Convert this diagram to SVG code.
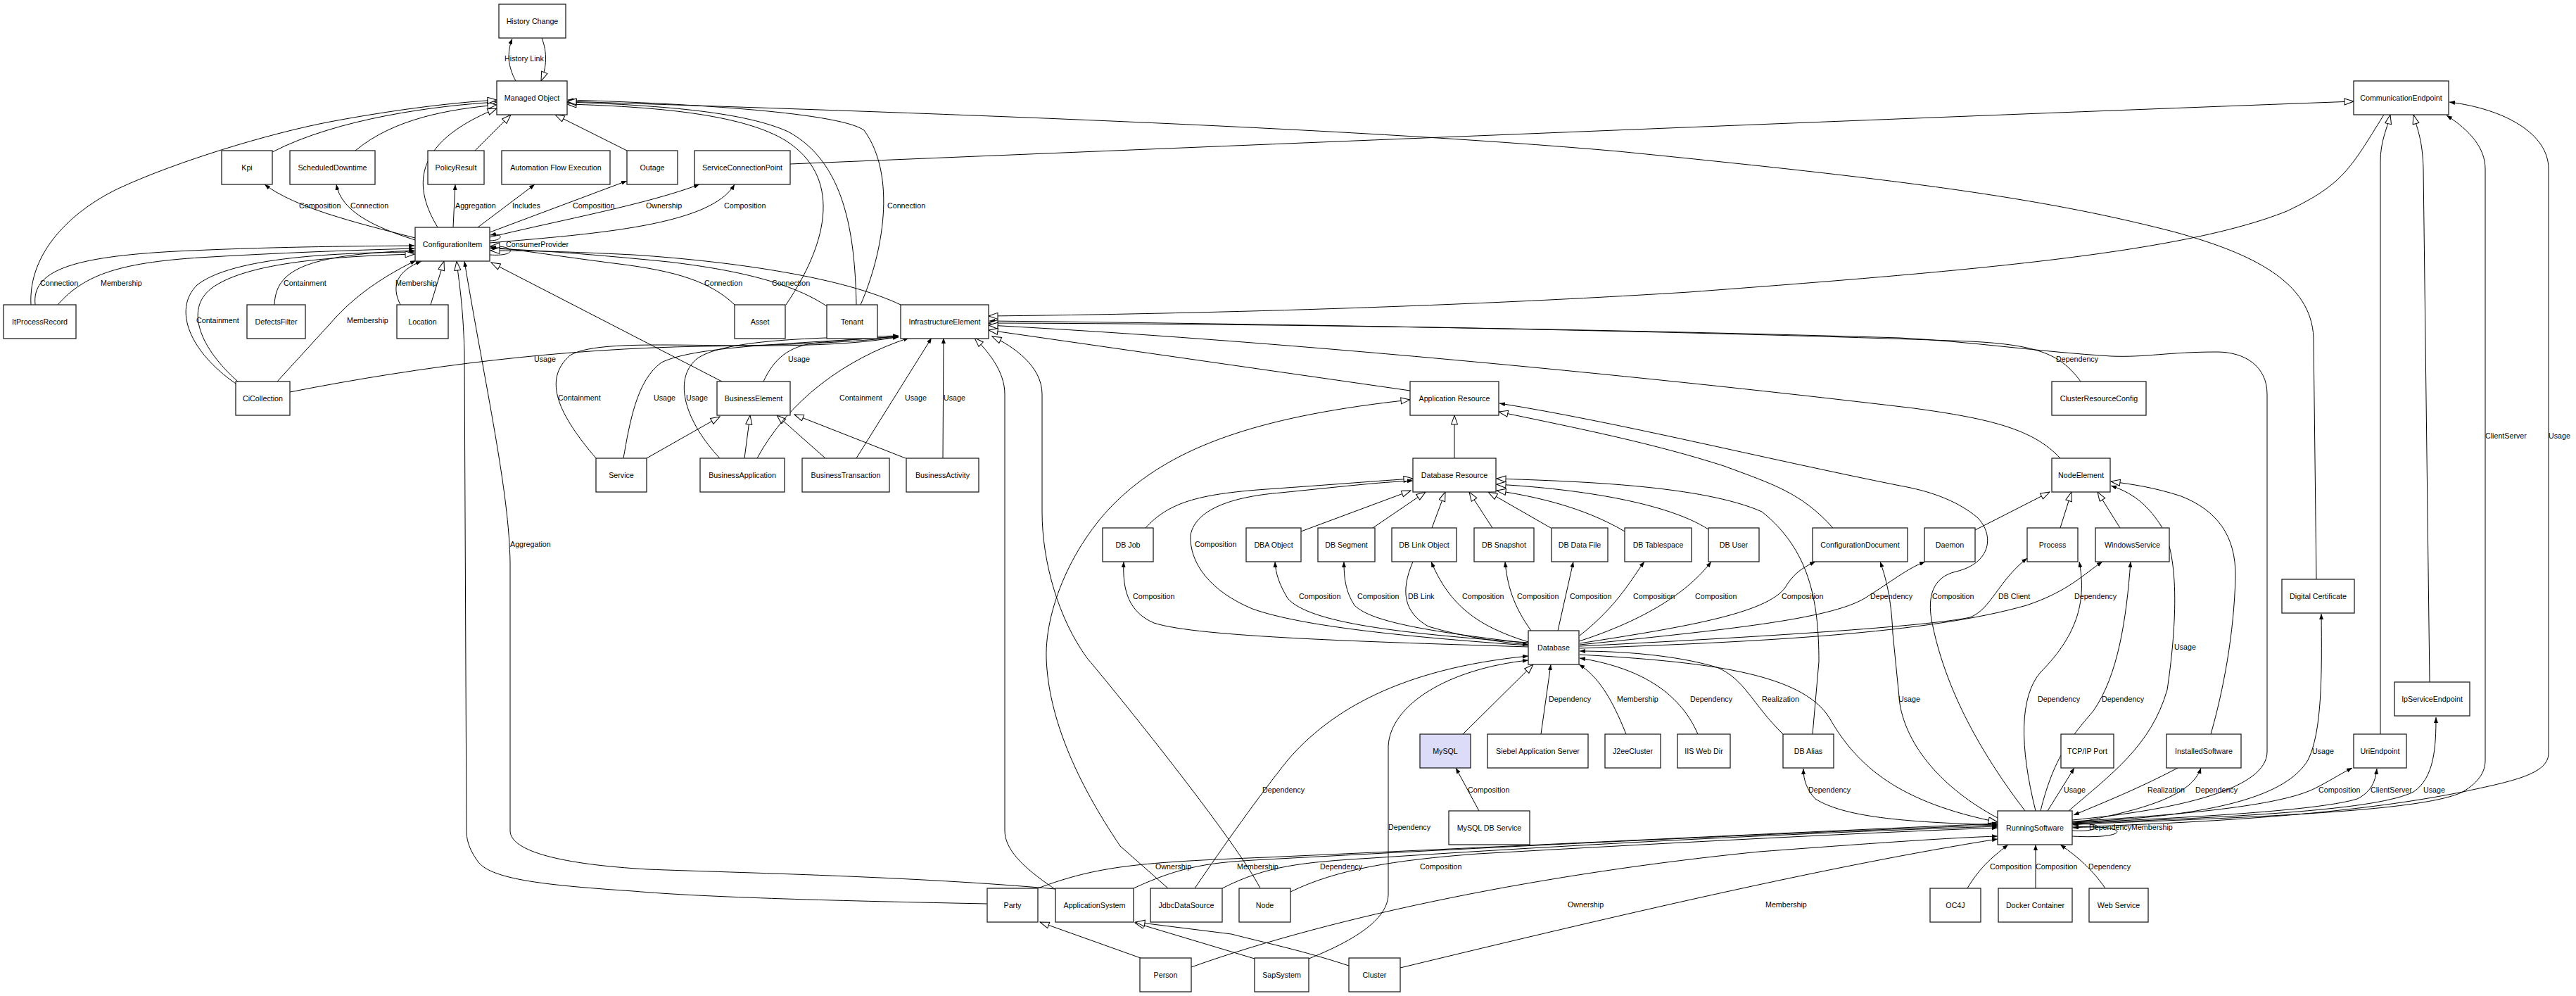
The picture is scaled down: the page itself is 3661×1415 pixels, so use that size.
<svg xmlns="http://www.w3.org/2000/svg" width="3661" height="1415" viewBox="0 0 3661 1415">
<style>
.e{fill:none;stroke:#000;stroke-width:1}
.f{marker-end:url(#af)}
.h{marker-end:url(#ah)}
.n rect{fill:#fff;stroke:#222;stroke-width:1.3}
.n text{font-family:"Liberation Sans",Arial,sans-serif;font-size:10.7px;text-anchor:middle;fill:#000}
.l text{font-family:"Liberation Sans",Arial,sans-serif;font-size:10.7px;fill:#000}
</style>
<defs>
<marker id="af" markerUnits="userSpaceOnUse" markerWidth="9" markerHeight="7" refX="8" refY="3" orient="auto" viewBox="0 0 9 7"><path d="M0,0 L8,3 L0,6 z" fill="#000"/></marker>
<marker id="ah" markerUnits="userSpaceOnUse" markerWidth="15" markerHeight="11" refX="14" refY="5" orient="auto" viewBox="0 0 15 11"><path d="M1,0.5 L14,5 L1,9.5 z" fill="#fff" stroke="#000" stroke-width="1"/></marker>
</defs>
<rect width="3661" height="1415" fill="#fff"/>
<g id="connectors">
<path class="e f" d="M733,115 C722,95 720,75 728,55"/>
<path class="e h" d="M770,54 C778,75 777,95 769,115"/>
<path class="e h" d="M387,216 C480,168 620,150 706,145"/>
<path class="e h" d="M505,214 C560,168 640,155 706,149"/>
<path class="e h" d="M44,433 C40,360 100,300 170,267 C250,230 380,190 469,173 C560,156 640,146 706,142"/>
<path class="e h" d="M622,323 C590,270 580,205 706,154"/>
<path class="e h" d="M675,214 L726,163"/>
<path class="e h" d="M891,214 L789,163"/>
<path class="e h" d="M1117,433 C1180,340 1195,250 1117,200 C1060,165 950,152 806,148"/>
<path class="e h" d="M1217,433 C1215,330 1200,230 1120,187 C1060,160 950,150 806,145"/>
<path class="e f" d="M1223,433 C1255,360 1275,250 1228,185 C1190,158 950,146 807,142"/>
<path class="e h" d="M3292,823 L3288,480 C3285,400 3200,360 3092,330 C2900,280 2700,255 2300,215 C1900,180 1300,160 806,144"/>
<path class="e h" d="M1123,233 C1800,205 2700,168 3345,144"/>
<path class="e h" d="M3388,163 C3340,240 3330,262 3250,300 C3100,360 2800,385 2400,415 C2000,440 1600,447 1405,449"/>
<path class="e h" d="M3383,1043 L3383,230 C3383,200 3392,185 3397,163"/>
<path class="e h" d="M3453,969 L3444,240 C3443,200 3436,185 3430,163"/>
<path class="e f" d="M590,338 C500,315 420,295 376,262"/>
<path class="e f" d="M590,341 C530,322 485,300 478,262"/>
<path class="e f" d="M644,323 L647,262"/>
<path class="e f" d="M679,323 L760,262"/>
<path class="e f" d="M696,330 L891,257"/>
<path class="e f" d="M696,337 C800,312 920,290 994,262"/>
<path class="e f" d="M696,345 C850,332 1010,320 1044,262"/>
<path class="e f" d="M696,342 C716,342 716,330 697,334"/>
<path class="e h" d="M696,362 C735,365 735,348 697,350"/>
<path class="e f" d="M50,433 C45,385 100,365 250,357 C400,350 500,350 589,349"/>
<path class="e f" d="M82,433 C120,390 170,372 300,365 C420,358 520,355 589,353"/>
<path class="e f" d="M390,433 C392,385 430,362 589,356"/>
<path class="e f" d="M335,545 C270,500 245,440 280,405 C330,365 480,359 589,358"/>
<path class="e h" d="M338,542 C285,495 262,440 300,410 C350,372 480,364 589,361"/>
<path class="e f" d="M394,542 L469,460 C495,430 530,400 591,370"/>
<path class="e f" d="M569,433 C555,405 565,385 599,371"/>
<path class="e h" d="M612,433 L631,371"/>
<path class="e h" d="M1403,1284 C1200,1280 1000,1275 900,1266 C780,1258 700,1250 680,1225 C665,1205 663,1190 663,1180 L660,500 C658,430 652,400 649,371"/>
<path class="e f" d="M1500,1263 C1300,1245 1050,1240 920,1235 C800,1228 725,1210 725,1180 L725,800 C724,700 690,550 660,371"/>
<path class="e h" d="M1026,542 L698,373"/>
<path class="e f" d="M1044,433 C1010,400 960,385 880,375 C800,365 740,355 697,351"/>
<path class="e f" d="M1175,435 C1130,405 1060,385 950,372 C850,362 760,355 697,353"/>
<path class="e h" d="M1280,433 C1200,395 1050,372 900,362 C800,357 740,356 697,356"/>
<path class="e h" d="M919,651 L1023,592"/>
<path class="e h" d="M1058,651 L1066,590"/>
<path class="e h" d="M1173,651 L1104,590"/>
<path class="e h" d="M1287,651 L1129,589"/>
<path class="e f" d="M847,651 C795,590 770,540 810,505 C850,480 1000,495 1150,490 C1220,488 1260,482 1277,478"/>
<path class="e f" d="M886,651 C895,600 905,540 940,515 C990,490 1150,488 1277,478"/>
<path class="e f" d="M1023,651 C975,600 955,540 990,510 C1030,480 1180,480 1277,477"/>
<path class="e f" d="M1085,542 C1100,510 1120,492 1160,487 C1210,482 1250,480 1277,478"/>
<path class="e f" d="M1076,651 C1120,570 1200,510 1292,480"/>
<path class="e f" d="M1217,651 L1324,480"/>
<path class="e f" d="M1340,651 L1341,480"/>
<path class="e f" d="M412,557 C600,520 800,495 1000,492 C1150,490 1230,484 1277,479"/>
<path class="e h" d="M1499,1263 C1450,1230 1428,1205 1428,1180 L1428,560 C1428,528 1405,500 1385,480"/>
<path class="e h" d="M1791,1262 C1760,1200 1600,1000 1545,935 C1505,880 1481,800 1481,727 L1481,560 C1481,520 1440,492 1410,478"/>
<path class="e h" d="M1660,1262 L1592,1202 C1530,1110 1490,1020 1487,935 C1485,860 1530,760 1600,700 C1680,630 1800,590 2004,568"/>
<path class="e f" d="M2957,542 C2930,505 2900,490 2800,485 C2400,470 1800,460 1406,456"/>
<path class="e h" d="M2945,1165 C3100,1150 3222,1120 3222,1068 L3222,560 C3222,520 3190,500 3151,500 C3080,500 3050,508 3000,506 C2900,500 2800,485 2700,480 C2300,468 1800,460 1405,459"/>
<path class="e h" d="M2928,651 C2890,610 2830,595 2720,580 C2300,530 1800,483 1405,462"/>
<path class="e h" d="M2004,555 L1405,469"/>
<path class="e h" d="M2067,651 L2067,590"/>
<path class="e h" d="M2605,750 C2560,700 2520,688 2450,662 C2350,630 2250,610 2130,585"/>
<path class="e f" d="M2878,1152 C2800,1050 2760,960 2745,880 C2740,850 2745,820 2780,812 C2830,800 2835,760 2810,735 C2780,710 2740,697 2700,690 C2500,650 2300,600 2131,573"/>
<path class="e h" d="M1628,750 C1660,715 1700,702 1800,695 C1900,688 1960,683 2008,680"/>
<path class="e f" d="M2172,917 C2000,905 1850,890 1780,865 C1720,840 1690,800 1692,760 C1700,720 1760,705 1820,700 C1900,692 1960,685 2008,683"/>
<path class="e f" d="M2172,919 C1950,912 1700,905 1640,885 C1605,870 1595,840 1597,798"/>
<path class="e f" d="M2172,913 C1990,900 1860,885 1830,850 C1818,830 1813,815 1812,798"/>
<path class="e h" d="M1849,755 L2005,697"/>
<path class="e f" d="M2172,914 C2040,898 1950,885 1925,860 C1912,840 1910,820 1910,798"/>
<path class="e h" d="M1951,750 L2026,699"/>
<path class="e f" d="M2008,798 C1990,840 1995,870 2030,890 C2080,905 2130,912 2172,916"/>
<path class="e f" d="M2172,912 C2100,890 2060,860 2034,798"/>
<path class="e h" d="M2035,750 L2054,699"/>
<path class="e f" d="M2176,896 C2150,860 2142,830 2139,798"/>
<path class="e h" d="M2121,750 L2088,699"/>
<path class="e f" d="M2214,896 L2236,798"/>
<path class="e h" d="M2204,750 L2115,699"/>
<path class="e f" d="M2245,903 C2300,860 2320,820 2337,798"/>
<path class="e h" d="M2309,755 C2250,720 2180,705 2127,697"/>
<path class="e f" d="M2244,911 C2340,880 2400,840 2432,798"/>
<path class="e h" d="M2428,752 C2370,715 2250,695 2127,688"/>
<path class="e h" d="M2576,1043 L2585,940 C2585,850 2570,780 2504,727 C2420,690 2250,684 2127,680"/>
<path class="e f" d="M2534,1043 C2490,1000 2480,965 2440,948 C2380,930 2300,925 2245,925"/>
<path class="e f" d="M2245,914 C2400,890 2520,870 2540,830 C2552,812 2565,805 2580,798"/>
<path class="e f" d="M2245,916 C2450,895 2600,880 2650,850 C2690,825 2710,808 2736,798"/>
<path class="e f" d="M2245,918 C2500,905 2740,890 2800,877 C2830,865 2840,825 2881,793"/>
<path class="e f" d="M2245,921 C2500,912 2740,900 2880,860 C2940,840 2962,815 2988,798"/>
<path class="e h" d="M2079,1043 L2179,944"/>
<path class="e f" d="M2190,1043 L2204,944"/>
<path class="e f" d="M2311,1043 C2290,990 2270,960 2244,944"/>
<path class="e f" d="M2413,1043 C2390,990 2340,950 2245,935"/>
<path class="e f" d="M2102,1152 L2069,1091"/>
<path class="e h" d="M2245,930 C2420,940 2560,955 2600,1020 C2640,1090 2700,1140 2839,1168"/>
<path class="e f" d="M1860,1362 C1940,1330 1973,1300 1973,1270 L1973,1060 C1976,1000 2060,950 2172,938"/>
<path class="e f" d="M1698,1262 C1740,1200 1790,1130 1830,1080 C1890,1010 1990,950 2172,932"/>
<path class="e f" d="M1475,1262 C1560,1230 1620,1225 1800,1218 C2200,1200 2600,1180 2839,1170"/>
<path class="e f" d="M1611,1262 C1680,1230 1720,1225 1800,1221 C2200,1199 2600,1181 2839,1172"/>
<path class="e f" d="M1737,1262 C1800,1230 1850,1225 1950,1219 C2300,1196 2600,1182 2839,1174"/>
<path class="e f" d="M1834,1267 C1900,1235 1980,1222 2100,1213 C2400,1196 2650,1183 2839,1176"/>
<path class="e f" d="M1693,1374 C1900,1300 2200,1240 2500,1210 C2700,1195 2780,1190 2839,1188"/>
<path class="e f" d="M1990,1375 C2300,1300 2600,1230 2839,1192"/>
<path class="e h" d="M1783,1362 L1613,1311"/>
<path class="e h" d="M1917,1372 C1850,1350 1800,1340 1750,1327 L1614,1310"/>
<path class="e h" d="M1621,1361 L1478,1310"/>
<path class="e f" d="M2910,1152 L2948,1091"/>
<path class="e f" d="M3095,1091 C3040,1120 2990,1140 2947,1158"/>
<path class="e f" d="M2945,1170 C3050,1150 3115,1130 3128,1091"/>
<path class="e h" d="M3142,1043 C3160,980 3175,900 3177,820 C3178,760 3150,725 3100,705 C3060,692 3030,688 3000,684"/>
<path class="e f" d="M2940,1152 C3000,1100 3057,1060 3080,980 C3092,900 3100,790 3070,745 C3050,715 3030,700 3000,690"/>
<path class="e f" d="M2945,1168 C3150,1160 3250,1130 3280,1080 C3300,1040 3300,960 3299,872"/>
<path class="e f" d="M2945,1167 C3150,1155 3250,1140 3290,1120 C3310,1110 3325,1100 3343,1091"/>
<path class="e f" d="M2945,1169 C3150,1160 3300,1150 3350,1135 C3370,1125 3376,1110 3378,1092"/>
<path class="e f" d="M2945,1170 C3200,1160 3380,1150 3430,1125 C3460,1105 3462,1060 3462,1019"/>
<path class="e f" d="M2945,1171 C3250,1160 3450,1150 3500,1125 C3525,1110 3532,1095 3532,1080 L3532,240 C3532,210 3510,185 3477,164"/>
<path class="e f" d="M2945,1175 C3250,1165 3400,1145 3500,1125 C3570,1110 3622,1100 3622,1070 L3622,240 C3622,190 3560,155 3481,145"/>
<path class="e f" d="M2945,1180 C2990,1183 2995,1166 2946,1172"/>
<path class="e f" d="M2945,1188 C3030,1193 3030,1170 2946,1176"/>
<path class="e f" d="M2796,1262 C2815,1230 2835,1215 2854,1200"/>
<path class="e f" d="M2893,1262 L2893,1200"/>
<path class="e f" d="M2992,1262 C2970,1230 2945,1212 2928,1200"/>
<path class="e f" d="M2893,1152 C2870,1060 2870,990 2900,955 C2955,900 2965,850 2955,798"/>
<path class="e f" d="M2900,1152 C2920,1070 2950,1040 2975,1010 C3010,960 3022,880 3028,798"/>
<path class="e f" d="M2839,1162 C2760,1120 2710,1060 2700,1000 L2690,900 C2688,850 2680,820 2672,798"/>
<path class="e f" d="M2839,1172 C2700,1168 2620,1160 2580,1135 C2566,1120 2563,1105 2563,1092"/>
<path class="e h" d="M2807,753 L2913,699"/>
<path class="e h" d="M2928,750 L2944,699"/>
<path class="e h" d="M3013,750 L2981,699"/>
<g class="l">
<text x="745" y="87" text-anchor="middle">History Link</text>
<text x="425" y="296">Composition</text>
<text x="498" y="296">Connection</text>
<text x="647" y="296">Aggregation</text>
<text x="728" y="296">Includes</text>
<text x="814" y="296">Composition</text>
<text x="918" y="296">Ownership</text>
<text x="1029" y="296">Composition</text>
<text x="1261" y="296">Connection</text>
<text x="719" y="351">ConsumerProvider</text>
<text x="57" y="406">Connection</text>
<text x="143" y="406">Membership</text>
<text x="403" y="406">Containment</text>
<text x="562" y="406">Membership</text>
<text x="1001" y="406">Connection</text>
<text x="1097" y="406">Connection</text>
<text x="279" y="459">Containment</text>
<text x="493" y="459">Membership</text>
<text x="759" y="514">Usage</text>
<text x="1120" y="514">Usage</text>
<text x="2922" y="514">Dependency</text>
<text x="793" y="569">Containment</text>
<text x="929" y="569">Usage</text>
<text x="975" y="569">Usage</text>
<text x="1193" y="569">Containment</text>
<text x="1286" y="569">Usage</text>
<text x="1341" y="569">Usage</text>
<text x="3532" y="623">ClientServer</text>
<text x="3622" y="623">Usage</text>
<text x="725" y="777">Aggregation</text>
<text x="1698" y="777">Composition</text>
<text x="1610" y="851">Composition</text>
<text x="1846" y="851">Composition</text>
<text x="1929" y="851">Composition</text>
<text x="2001" y="851">DB Link</text>
<text x="2078" y="851">Composition</text>
<text x="2156" y="851">Composition</text>
<text x="2231" y="851">Composition</text>
<text x="2321" y="851">Composition</text>
<text x="2409" y="851">Composition</text>
<text x="2532" y="851">Composition</text>
<text x="2658" y="851">Dependency</text>
<text x="2746" y="851">Composition</text>
<text x="2840" y="851">DB Client</text>
<text x="2948" y="851">Dependency</text>
<text x="3090" y="923">Usage</text>
<text x="2201" y="997">Dependency</text>
<text x="2298" y="997">Membership</text>
<text x="2402" y="997">Dependency</text>
<text x="2504" y="997">Realization</text>
<text x="2698" y="997">Usage</text>
<text x="2896" y="997">Dependency</text>
<text x="2987" y="997">Dependency</text>
<text x="3286" y="1071">Usage</text>
<text x="1794" y="1126">Dependency</text>
<text x="2086" y="1126">Composition</text>
<text x="2570" y="1126">Dependency</text>
<text x="2933" y="1126">Usage</text>
<text x="3052" y="1126">Realization</text>
<text x="3120" y="1126">Dependency</text>
<text x="3295" y="1126">Composition</text>
<text x="3369" y="1126">ClientServer</text>
<text x="3444" y="1126">Usage</text>
<text x="1973" y="1179">Dependency</text>
<text x="2969" y="1179">Dependency</text>
<text x="3029" y="1179">Membership</text>
<text x="1642" y="1235">Ownership</text>
<text x="1758" y="1235">Membership</text>
<text x="1876" y="1235">Dependency</text>
<text x="2018" y="1235">Composition</text>
<text x="2828" y="1235">Composition</text>
<text x="2893" y="1235">Composition</text>
<text x="2968" y="1235">Dependency</text>
<text x="2228" y="1289">Ownership</text>
<text x="2509" y="1289">Membership</text>
</g>
</g>
<g id="nodes">
<g id="n-HistoryChange" class="n"><rect x="709" y="6" width="95" height="48"/><text x="756.5" y="34">History Change</text></g>
<g id="n-ManagedObject" class="n"><rect x="706" y="115" width="100" height="48"/><text x="756" y="143">Managed Object</text></g>
<g id="n-Kpi" class="n"><rect x="315" y="214" width="72" height="48"/><text x="351" y="242">Kpi</text></g>
<g id="n-ScheduledDowntime" class="n"><rect x="412" y="214" width="121" height="48"/><text x="472.5" y="242">ScheduledDowntime</text></g>
<g id="n-PolicyResult" class="n"><rect x="608" y="214" width="80" height="48"/><text x="648" y="242">PolicyResult</text></g>
<g id="n-AutomationFlowExecution" class="n"><rect x="713" y="214" width="154" height="48"/><text x="790" y="242">Automation Flow Execution</text></g>
<g id="n-Outage" class="n"><rect x="891" y="214" width="72" height="48"/><text x="927" y="242">Outage</text></g>
<g id="n-ServiceConnectionPoint" class="n"><rect x="987" y="214" width="136" height="48"/><text x="1055" y="242">ServiceConnectionPoint</text></g>
<g id="n-CommunicationEndpoint" class="n"><rect x="3345" y="115" width="135" height="48"/><text x="3412.5" y="143">CommunicationEndpoint</text></g>
<g id="n-ConfigurationItem" class="n"><rect x="590" y="323" width="106" height="48"/><text x="643" y="351">ConfigurationItem</text></g>
<g id="n-ItProcessRecord" class="n"><rect x="5" y="433" width="103" height="48"/><text x="56.5" y="461">ItProcessRecord</text></g>
<g id="n-DefectsFilter" class="n"><rect x="351" y="433" width="83" height="48"/><text x="392.5" y="461">DefectsFilter</text></g>
<g id="n-Location" class="n"><rect x="564" y="433" width="73" height="48"/><text x="600.5" y="461">Location</text></g>
<g id="n-Asset" class="n"><rect x="1044" y="433" width="72" height="48"/><text x="1080" y="461">Asset</text></g>
<g id="n-Tenant" class="n"><rect x="1175" y="433" width="72" height="48"/><text x="1211" y="461">Tenant</text></g>
<g id="n-InfrastructureElement" class="n"><rect x="1280" y="433" width="125" height="48"/><text x="1342.5" y="461">InfrastructureElement</text></g>
<g id="n-CiCollection" class="n"><rect x="335" y="542" width="77" height="48"/><text x="373.5" y="570">CiCollection</text></g>
<g id="n-BusinessElement" class="n"><rect x="1019" y="542" width="104" height="48"/><text x="1071" y="570">BusinessElement</text></g>
<g id="n-ApplicationResource" class="n"><rect x="2004" y="542" width="126" height="48"/><text x="2067" y="570">Application Resource</text></g>
<g id="n-ClusterResourceConfig" class="n"><rect x="2916" y="542" width="134" height="48"/><text x="2983" y="570">ClusterResourceConfig</text></g>
<g id="n-Service" class="n"><rect x="847" y="651" width="72" height="48"/><text x="883" y="679">Service</text></g>
<g id="n-BusinessApplication" class="n"><rect x="995" y="651" width="120" height="48"/><text x="1055" y="679">BusinessApplication</text></g>
<g id="n-BusinessTransaction" class="n"><rect x="1140" y="651" width="124" height="48"/><text x="1202" y="679">BusinessTransaction</text></g>
<g id="n-BusinessActivity" class="n"><rect x="1288" y="651" width="103" height="48"/><text x="1339.5" y="679">BusinessActivity</text></g>
<g id="n-DatabaseResource" class="n"><rect x="2008" y="651" width="118" height="48"/><text x="2067" y="679">Database Resource</text></g>
<g id="n-NodeElement" class="n"><rect x="2916" y="651" width="83" height="48"/><text x="2957.5" y="679">NodeElement</text></g>
<g id="n-DBJob" class="n"><rect x="1567" y="750" width="72" height="48"/><text x="1603" y="778">DB Job</text></g>
<g id="n-DBAObject" class="n"><rect x="1771" y="750" width="78" height="48"/><text x="1810" y="778">DBA Object</text></g>
<g id="n-DBSegment" class="n"><rect x="1873" y="750" width="81" height="48"/><text x="1913.5" y="778">DB Segment</text></g>
<g id="n-DBLinkObject" class="n"><rect x="1978" y="750" width="92" height="48"/><text x="2024" y="778">DB Link Object</text></g>
<g id="n-DBSnapshot" class="n"><rect x="2095" y="750" width="85" height="48"/><text x="2137.5" y="778">DB Snapshot</text></g>
<g id="n-DBDataFile" class="n"><rect x="2205" y="750" width="80" height="48"/><text x="2245" y="778">DB Data File</text></g>
<g id="n-DBTablespace" class="n"><rect x="2309" y="750" width="95" height="48"/><text x="2356.5" y="778">DB Tablespace</text></g>
<g id="n-DBUser" class="n"><rect x="2428" y="750" width="72" height="48"/><text x="2464" y="778">DB User</text></g>
<g id="n-ConfigurationDocument" class="n"><rect x="2576" y="750" width="135" height="48"/><text x="2643.5" y="778">ConfigurationDocument</text></g>
<g id="n-Daemon" class="n"><rect x="2735" y="750" width="72" height="48"/><text x="2771" y="778">Daemon</text></g>
<g id="n-Process" class="n"><rect x="2881" y="750" width="72" height="48"/><text x="2917" y="778">Process</text></g>
<g id="n-WindowsService" class="n"><rect x="2978" y="750" width="105" height="48"/><text x="3030.5" y="778">WindowsService</text></g>
<g id="n-DigitalCertificate" class="n"><rect x="3243" y="823" width="103" height="48"/><text x="3294.5" y="851">Digital Certificate</text></g>
<g id="n-Database" class="n"><rect x="2172" y="896" width="72" height="48"/><text x="2208" y="924">Database</text></g>
<g id="n-IpServiceEndpoint" class="n"><rect x="3403" y="969" width="107" height="48"/><text x="3456.5" y="997">IpServiceEndpoint</text></g>
<g id="n-MySQL" class="n"><rect x="2018" y="1043" width="72" height="48" style="fill:#dcdcf8"/><text x="2054" y="1071">MySQL</text></g>
<g id="n-SiebelApplicationServer" class="n"><rect x="2114" y="1043" width="143" height="48"/><text x="2185.5" y="1071">Siebel Application Server</text></g>
<g id="n-J2eeCluster" class="n"><rect x="2281" y="1043" width="79" height="48"/><text x="2320.5" y="1071">J2eeCluster</text></g>
<g id="n-IISWebDir" class="n"><rect x="2384" y="1043" width="75" height="48"/><text x="2421.5" y="1071">IIS Web Dir</text></g>
<g id="n-DBAlias" class="n"><rect x="2534" y="1043" width="72" height="48"/><text x="2570" y="1071">DB Alias</text></g>
<g id="n-TCPIPPort" class="n"><rect x="2929" y="1043" width="75" height="48"/><text x="2966.5" y="1071">TCP/IP Port</text></g>
<g id="n-InstalledSoftware" class="n"><rect x="3079" y="1043" width="106" height="48"/><text x="3132" y="1071">InstalledSoftware</text></g>
<g id="n-UriEndpoint" class="n"><rect x="3345" y="1043" width="75" height="48"/><text x="3382.5" y="1071">UriEndpoint</text></g>
<g id="n-MySQLDBService" class="n"><rect x="2059" y="1152" width="115" height="48"/><text x="2116.5" y="1180">MySQL DB Service</text></g>
<g id="n-RunningSoftware" class="n"><rect x="2839" y="1152" width="106" height="48"/><text x="2892" y="1180">RunningSoftware</text></g>
<g id="n-Party" class="n"><rect x="1403" y="1262" width="72" height="48"/><text x="1439" y="1290">Party</text></g>
<g id="n-ApplicationSystem" class="n"><rect x="1500" y="1262" width="111" height="48"/><text x="1555.5" y="1290">ApplicationSystem</text></g>
<g id="n-JdbcDataSource" class="n"><rect x="1635" y="1262" width="102" height="48"/><text x="1686" y="1290">JdbcDataSource</text></g>
<g id="n-Node" class="n"><rect x="1761" y="1262" width="73" height="48"/><text x="1797.5" y="1290">Node</text></g>
<g id="n-OC4J" class="n"><rect x="2743" y="1262" width="72" height="48"/><text x="2779" y="1290">OC4J</text></g>
<g id="n-DockerContainer" class="n"><rect x="2840" y="1262" width="105" height="48"/><text x="2892.5" y="1290">Docker Container</text></g>
<g id="n-WebService" class="n"><rect x="2969" y="1262" width="84" height="48"/><text x="3011" y="1290">Web Service</text></g>
<g id="n-Person" class="n"><rect x="1620" y="1361" width="73" height="48"/><text x="1656.5" y="1389">Person</text></g>
<g id="n-SapSystem" class="n"><rect x="1783" y="1361" width="77" height="48"/><text x="1821.5" y="1389">SapSystem</text></g>
<g id="n-Cluster" class="n"><rect x="1917" y="1361" width="73" height="48"/><text x="1953.5" y="1389">Cluster</text></g>
</g>
</svg>
